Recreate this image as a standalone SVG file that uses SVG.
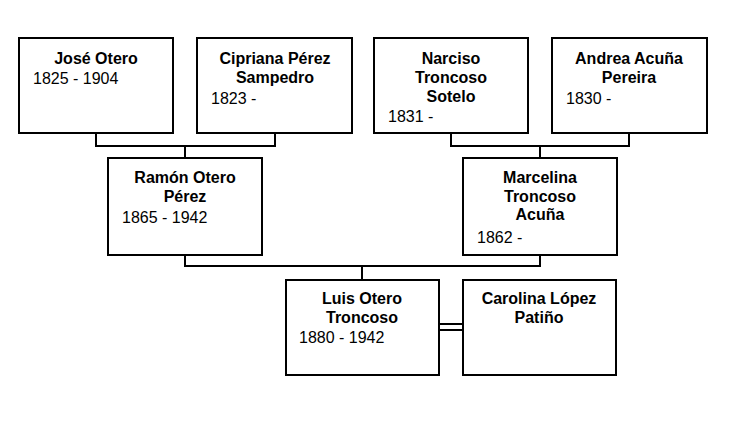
<svg xmlns="http://www.w3.org/2000/svg" width="742" height="422" viewBox="0 0 742 422">
<style>
.box{fill:#fff;stroke:#000;stroke-width:2}
.con{fill:none;stroke:#000;stroke-width:2}
.n{font-family:"Liberation Sans",Arial,sans-serif;font-size:16px;font-weight:bold;text-anchor:middle;fill:#000}
.d{font-family:"Liberation Sans",Arial,sans-serif;font-size:16px;fill:#000}
</style>
<rect width="742" height="422" fill="#fff"/>
<g id="connectors">
<path class="con" d="M96 133V146H275V133M185 146V158"/>
<path class="con" d="M451 133V146H629V133M540 146V158"/>
<path class="con" d="M185 255V266H540V255M362 266V280"/>
<path class="con" d="M439 324H463M439 330H463"/>
</g>
<g id="jose">
<rect class="box" x="19" y="38" width="154" height="95"/>
<text class="n" x="96" y="63.5">José Otero</text>
<text class="d" x="33" y="83.5">1825 - 1904</text>
</g>
<g id="cipriana">
<rect class="box" x="197" y="38" width="155" height="95"/>
<text class="n" x="275" y="63.5">Cipriana Pérez</text>
<text class="n" x="275" y="82.5">Sampedro</text>
<text class="d" x="211" y="103.5">1823 -</text>
</g>
<g id="narciso">
<rect class="box" x="374" y="38" width="154" height="95"/>
<text class="n" x="451" y="63.5">Narciso</text>
<text class="n" x="451" y="82.5">Troncoso</text>
<text class="n" x="451" y="101.5">Sotelo</text>
<text class="d" x="388" y="121.5">1831 -</text>
</g>
<g id="andrea">
<rect class="box" x="552" y="38" width="155" height="95"/>
<text class="n" x="629" y="63.5">Andrea Acuña</text>
<text class="n" x="629" y="82.5">Pereira</text>
<text class="d" x="566" y="103.5">1830 -</text>
</g>
<g id="ramon">
<rect class="box" x="108" y="158" width="154" height="97"/>
<text class="n" x="185" y="182.5">Ramón Otero</text>
<text class="n" x="185" y="201.5">Pérez</text>
<text class="d" x="122" y="222.5">1865 - 1942</text>
</g>
<g id="marcelina">
<rect class="box" x="463" y="158" width="154" height="97"/>
<text class="n" x="540" y="182.5">Marcelina</text>
<text class="n" x="540" y="201.5">Troncoso</text>
<text class="n" x="540" y="219.5">Acuña</text>
<text class="d" x="477" y="242.5">1862 -</text>
</g>
<g id="luis">
<rect class="box" x="286" y="280" width="153" height="95"/>
<text class="n" x="362" y="303.5">Luis Otero</text>
<text class="n" x="362" y="322.5">Troncoso</text>
<text class="d" x="299" y="342.5">1880 - 1942</text>
</g>
<g id="carolina">
<rect class="box" x="463" y="280" width="153" height="95"/>
<text class="n" x="539" y="303.5">Carolina López</text>
<text class="n" x="539" y="322.5">Patiño</text>
</g>
</svg>
